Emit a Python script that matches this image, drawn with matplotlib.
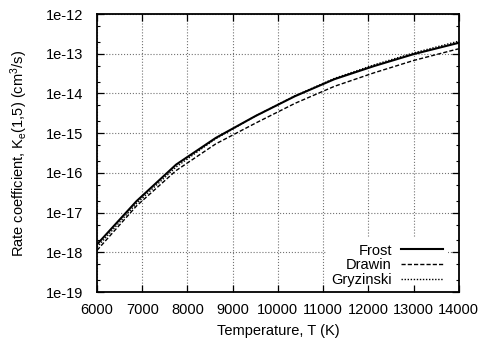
import numpy as np
import matplotlib.pyplot as plt
from matplotlib.ticker import FixedLocator, FuncFormatter, MultipleLocator, NullFormatter

plt.rcParams['font.family'] = ['Liberation Sans', 'DejaVu Sans']
plt.rcParams['font.size'] = 10.5
plt.rcParams['mathtext.default'] = 'regular'

# temperatures (K) and log10 of the rate coefficient K_e(1,5) in cm^3/s
temp = [6000, 6875, 7750, 8625, 9500, 10375, 11250, 12125, 13000, 13875, 14000]
log_frost = [-17.80, -16.71, -15.79, -15.12, -14.57, -14.07, -13.64, -13.31, -13.01, -12.76, -12.725]
log_drawin = [-17.95, -16.83, -15.94, -15.27, -14.75, -14.25, -13.82, -13.48, -13.17, -12.91, -12.875]
log_gryz = [-17.87, -16.77, -15.85, -15.14, -14.57, -14.06, -13.62, -13.28, -12.98, -12.72, -12.68]

# decades shown on the y axis
exponents = np.arange(-19, -11)

T = np.array(temp)
frost = 10.0 ** np.array(log_frost)
drawin = 10.0 ** np.array(log_drawin)
gryz = 10.0 ** np.array(log_gryz)

major_y = 10.0 ** exponents
minor_y = np.concatenate([2.0 * major_y[:-1], 5.0 * major_y[:-1]])

fig = plt.figure(figsize=(4.84, 3.42), dpi=100)
ax = fig.add_axes([0.2004, 0.146, 0.7476, 0.813])

ax.plot(T, frost, 'k-', lw=1.5, label='Frost')
ax.plot(T, drawin, 'k', lw=1.0, dashes=(3, 1.5), label='Drawin')
ax.plot(T, gryz, 'k', lw=1.0, dashes=(1, 1.2), label='Gryzinski')

ax.set_yscale('log')
ax.set_xlim(6000, 14000)
ax.set_ylim(major_y[0], major_y[-1])
ax.xaxis.set_major_locator(MultipleLocator(1000))
ax.yaxis.set_major_locator(FixedLocator(major_y))
ax.yaxis.set_minor_locator(FixedLocator(minor_y))
ax.yaxis.set_major_formatter(FuncFormatter(lambda v, p: '1e%d' % int(round(np.log10(v)))))
ax.yaxis.set_minor_formatter(NullFormatter())
ax.grid(True, which='major', color='0.45', linestyle=':', lw=0.8)
ax.tick_params(which='both', length=0)
ax.tick_params(axis='y', pad=10)
ax.tick_params(axis='x', pad=8)

ax.set_xlabel('Temperature, T (K)', labelpad=5)
ax.set_ylabel('Rate coefficient, K$_e$(1,5) (cm$^3$/s)', labelpad=11)

# key box: right-aligned labels, blanks grid underneath
leg = ax.legend(loc='lower right', markerfirst=False, frameon=True,
                fancybox=False, handlelength=2.9, handletextpad=0.6,
                labelspacing=0.05, borderpad=0.35, borderaxespad=0.0,
                bbox_to_anchor=(0.97, 0.0))
frame = leg.get_frame()
frame.set_facecolor('white')
frame.set_edgecolor('white')
frame.set_alpha(1.0)
frame.set_linewidth(0)

# tick marks and frame drawn on top of the key box
ax2 = fig.add_axes(ax.get_position(), sharex=ax, sharey=ax)
ax2.patch.set_visible(False)
ax2.tick_params(which='both', direction='in', top=True, right=True,
                labelbottom=False, labelleft=False)
ax2.tick_params(which='major', length=5, width=0.9)
ax2.tick_params(which='minor', length=2.5, width=0.8)
for s in ax2.spines.values():
    s.set_linewidth(1.3)
for s in ax.spines.values():
    s.set_visible(False)

plt.savefig('out.png', dpi=100)
